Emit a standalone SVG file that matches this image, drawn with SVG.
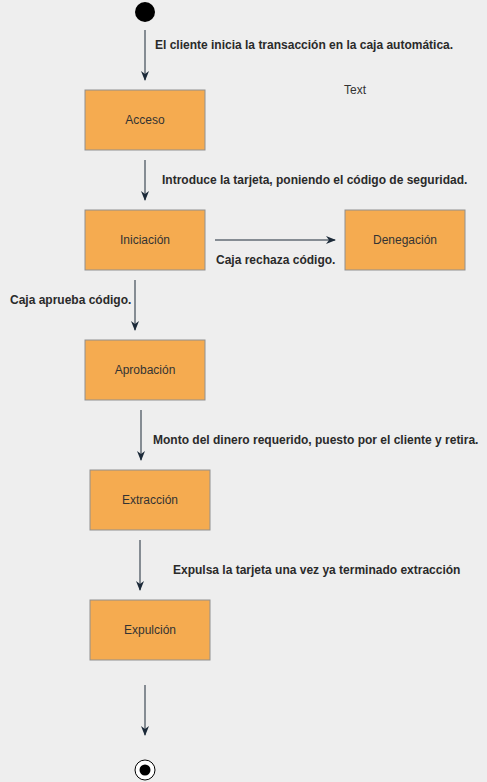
<svg xmlns="http://www.w3.org/2000/svg" width="487" height="782" viewBox="0 0 487 782">
<defs>
<marker id="ah" viewBox="0 0 10 10" refX="9" refY="5" markerWidth="10" markerHeight="10" markerUnits="userSpaceOnUse" orient="auto">
<path d="M0,1 L10,5 L0,9 L3,5 Z" fill="#1c2a39"/>
</marker>
<style>
.box{fill:#f5ab50;stroke:#909090;stroke-width:1}
.bt{font-family:"Liberation Sans",Arial,sans-serif;font-size:12px;fill:#333;text-anchor:middle}
.lb{font-family:"Liberation Sans",Arial,sans-serif;font-size:12px;font-weight:bold;fill:#2a2a2a}
.e{stroke:#1c2a39;stroke-width:1;fill:none;marker-end:url(#ah)}
</style>
</defs>
<rect width="487" height="782" fill="#eeeeee"/>
<g id="start"><circle cx="145" cy="12" r="10" fill="#000"/></g>
<g id="acceso"><rect class="box" x="85" y="90" width="120" height="60"/><text class="bt" x="145" y="124">Acceso</text></g>
<g id="iniciacion"><rect class="box" x="85" y="210" width="120" height="60"/><text class="bt" x="145" y="244">Iniciación</text></g>
<g id="denegacion"><rect class="box" x="345" y="210" width="120" height="60"/><text class="bt" x="405" y="244">Denegación</text></g>
<g id="aprobacion"><rect class="box" x="85" y="340" width="120" height="60"/><text class="bt" x="145" y="374">Aprobación</text></g>
<g id="extraccion"><rect class="box" x="90" y="470" width="120" height="60"/><text class="bt" x="150" y="504">Extracción</text></g>
<g id="expulcion"><rect class="box" x="90" y="600" width="120" height="60"/><text class="bt" x="150" y="634">Expulción</text></g>
<g id="end"><circle cx="145" cy="770" r="10" fill="#fff" stroke="#000" stroke-width="1"/><circle cx="145" cy="770" r="5.5" fill="#000"/></g>
<g id="textnode"><text x="344" y="94" font-family="Liberation Sans, Arial, sans-serif" font-size="12" fill="#333">Text</text></g>
<g id="connectors">
<line class="e" x1="145" y1="30" x2="145" y2="80" stroke="#5a6470"/>
<line class="e" x1="145" y1="160" x2="145" y2="200"/>
<line class="e" x1="215" y1="240" x2="335" y2="240"/>
<line class="e" x1="135" y1="280" x2="135" y2="330"/>
<line class="e" x1="141" y1="410" x2="141" y2="460"/>
<line class="e" x1="140" y1="540" x2="140" y2="590"/>
<line class="e" x1="145" y1="685" x2="145" y2="735"/>
</g>
<g id="labels">
<text class="lb" x="155" y="49">El cliente inicia la transacción en la caja automática.</text>
<text class="lb" x="162" y="184">Introduce la tarjeta, poniendo el código de seguridad.</text>
<text class="lb" x="216" y="264">Caja rechaza código.</text>
<text class="lb" x="10" y="304">Caja aprueba código.</text>
<text class="lb" x="153" y="444">Monto del dinero requerido, puesto por el cliente y retira.</text>
<text class="lb" x="173" y="574">Expulsa la tarjeta una vez ya terminado extracción</text>
</g>
</svg>
